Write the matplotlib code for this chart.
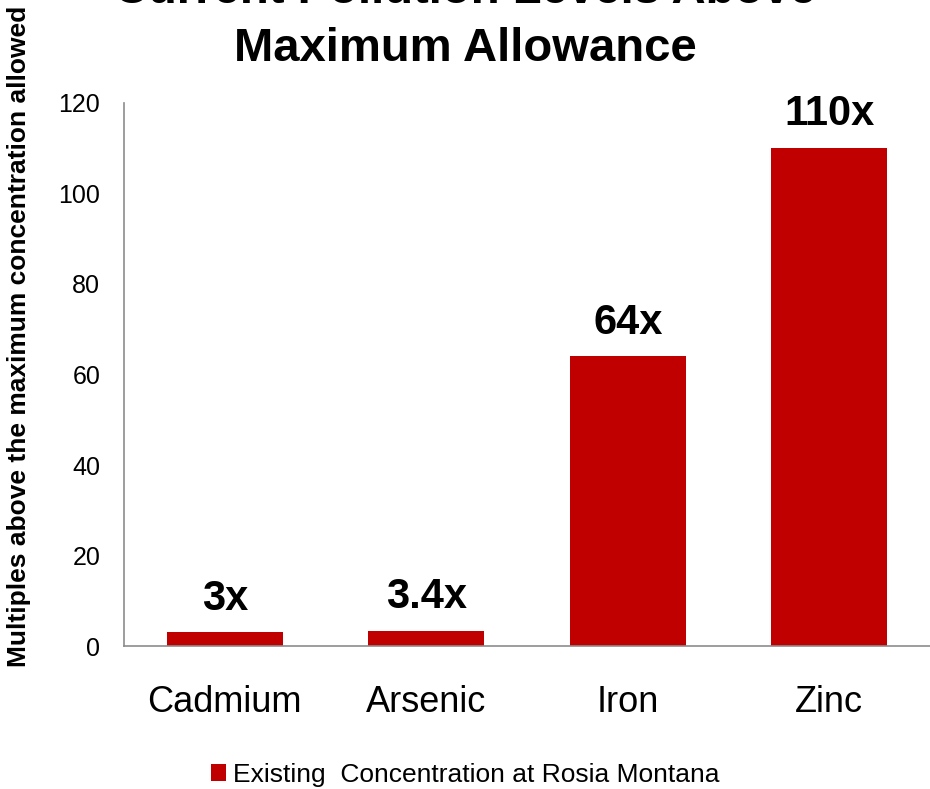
import matplotlib.pyplot as plt

# data
metals = ['Cadmium', 'Arsenic', 'Iron', 'Zinc']
multiples = [3, 3.4, 64, 110]
value_labels = ['3x', '3.4x', '64x', '110x']
y_ticks = [0, 20, 40, 60, 80, 100, 120]

plt.rcParams['font.family'] = ['Liberation Sans', 'DejaVu Sans']

fig = plt.figure(figsize=(9.3, 7.89), dpi=100)
ax = fig.add_axes([0.1333, 0.1812, 0.8667, 0.6883])

bars = ax.bar(range(len(metals)), multiples, width=0.575, color='#C00000',
              label='Existing  Concentration at Rosia Montana')
for bar, lab in zip(bars, value_labels):
    ax.annotate(lab, (bar.get_x() + bar.get_width() / 2, bar.get_height()),
                xytext=(0, 10), textcoords='offset points', ha='center', va='bottom',
                fontsize=30, fontweight='bold')

ax.set_xlim(-0.5, 3.5)
ax.set_ylim(0, 120)
ax.set_yticks(y_ticks)
ax.set_xticks(range(len(metals)))
ax.set_xticklabels(metals, fontsize=26)
ax.tick_params(axis='y', length=0, pad=17, labelsize=18)
ax.tick_params(axis='x', length=0, pad=28)
for s in ['top', 'right']:
    ax.spines[s].set_visible(False)
for s in ['left', 'bottom']:
    ax.spines[s].set_color('#8c8c8c')
    ax.spines[s].set_linewidth(1.2)

fig.text(0.5, 1 - 61 / 789, 'Current Pollution Levels Above\nMaximum Allowance',
         ha='center', va='baseline', fontsize=34, fontweight='bold', linespacing=1.4)
fig.text(0.02, 1 - 336 / 789, 'Multiples above the maximum concentration allowed',
         rotation=90, ha='center', va='center', fontsize=19, fontweight='bold')

fig.legend(loc='center', bbox_to_anchor=(0.5, 1 - 775 / 789), frameon=False,
           fontsize=19, handlelength=0.6, handleheight=0.6, handletextpad=0.25)

fig.savefig('out.png', dpi=100)
